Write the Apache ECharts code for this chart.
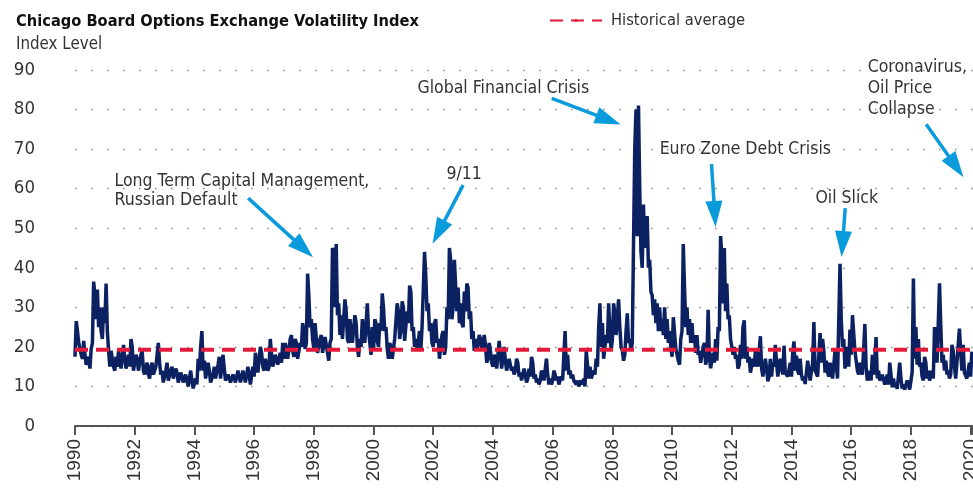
<!DOCTYPE html>
<html>
<head>
<meta charset="utf-8">
<script src="https://cdn.jsdelivr.net/npm/echarts@6/dist/echarts.min.js"></script>
<style>
html,body{margin:0;padding:0;background:#fff;}
#chart{width:973px;height:490px;}
</style>
</head>
<body>
<div id="chart"></div>
<script>
// VIX index level, two readings per month (first half, second half)
const vix1990 = [17.5,26.5, 24,21, 21,18, 17,21.5, 18,15.5, 15,17.5, 14.5,19.5, 21,36.5, 33,27, 34.5,25, 30,24, 22,30];
const vix1991 = [26,36, 24,19, 15,19, 19,15, 14,17.5, 15,19, 17,14.5, 14,20.5, 17,14.5, 14,18, 15,22, 20,14];
const vix1992 = [14,18, 17,14, 14.5,18, 19,14, 13,15, 16,13, 12,15, 16,13, 12.5,15, 15,21, 16,13, 14,11];
const vix1993 = [11.5,14, 16,11.5, 11,14, 15,12, 12,14.5, 13.5,11, 11,13.5, 12.5,11, 10.5,13, 12.5,10, 10.5,14, 11.5,9.5];
const vix1994 = [9.5,12, 10.5,17, 14,20, 24,14, 16.5,12, 12,16, 14,11, 11,13, 15,12, 12,15.5, 17.5,12, 12,18];
const vix1995 = [14.5,11.5, 11,13, 13,11, 11,13, 13.5,11, 11,14, 13.5,11, 11.5,14, 13.5,11, 11.5,15, 13,10.5, 11,15];
const vix1996 = [12.5,18.5, 18,13.5, 14,20, 18.5,15, 14,17, 16.5,14, 15,22, 18,15, 14.5,18, 18,15.5, 15,18.5, 16,21];
const vix1997 = [17,21, 21.5,17, 17.5,22, 23,19, 17.5,22, 21,17, 17,21, 20,26, 24,19.5, 21,38.5, 33,25, 27,22];
const vix1998 = [19.5,26, 22,18.5, 18,22, 23,18.5, 18,22.5, 22,18.5, 16.5,21, 22,45, 44,30, 46,28, 31,23, 28,22];
const vix1999 = [22,32, 29,22, 21,27, 27,21, 21,28, 26,20, 17.5,22, 20,27, 27,21, 21,31, 24,21, 18,25];
const vix2000 = [19,27, 26,21.5, 20,26, 24,33.5, 30,24, 25,19.5, 17,21, 20,17, 17.5,22, 22,31, 29,22, 24,31.5];
const vix2001 = [30,21.5, 21,29, 26,35.5, 34,24, 25,20, 22,19, 19,24, 19,25, 25,44, 38,29, 31,24, 26,21];
const vix2002 = [20,26, 27,21, 22,17, 17.5,23, 24,18, 20,30, 27,45, 42,27, 30,42, 42,29, 35,26, 31,26];
const vix2003 = [25,34, 29,36, 35,27, 29,22, 24,19, 22,19, 19,23, 22,19, 19,23, 20.5,16, 17,21, 19,16];
const vix2004 = [15,18, 17,14.5, 15,21.5, 18,14.5, 15,20, 16.5,14, 14,17, 17.5,14, 15,13, 14,17, 16,12.5, 13.5,11.5];
const vix2005 = [11.5,14.5, 13,11, 12,14.5, 12.5,17.5, 16,12, 13,11, 12,10.5, 11.5,14, 13,11.5, 12,17, 13,10.5, 12,10.5];
const vix2006 = [11.5,14, 13,11.5, 12.5,10.5, 11,12.5, 11.5,18, 24,14, 18,13, 14,12, 13,11.5, 12,10.5, 11.5,10, 10,11.5];
const vix2007 = [10.5,12, 10,19, 19,12, 15,12, 12,14, 13,17, 15,25, 31,20, 26,17, 17,23, 21,31, 24,19];
const vix2008 = [22,31, 28.5,23, 23,32, 25,20, 19,16.5, 18,24, 28.5,21, 22,19, 21,46, 70,80, 48,81, 60,44];
const vix2009 = [40,56, 45,52, 53,40, 42,34, 33,28, 32,26, 31,24, 30,24, 27,23, 30,22, 27,21, 24,20];
const vix2010 = [17.5,27.5, 28,19.5, 20,16.5, 15.5,22, 24,46, 35,25, 30,23, 27,21, 26,21, 23,18.5, 23,18, 19,16];
const vix2011 = [15.5,20, 21,15.5, 17,29.4, 17.5,14.6, 15,18.5, 16,22, 16.5,25, 24,48, 43,31, 45,29, 36,27, 28,22];
const vix2012 = [22,18, 20,17, 18,14.5, 15.5,20.5, 17,25, 26.7,17, 20,16, 17.5,13.5, 14,17, 15,19, 18.5,15, 15.5,22.7];
const vix2013 = [14.5,12.5, 12.5,17, 14.5,11.3, 12.5,17, 12.5,16, 15,20.5, 16,12.5, 12.5,17, 17,13, 20.3,13.5, 13.5,12.5, 12.5,16];
const vix2014 = [12.5,18.5, 21.4,14, 17.8,14, 13,17, 13,11.5, 12.5,10.6, 10.3,16.5, 16,11.5, 12,16, 26.3,14, 14,12.5, 12,23.5];
const vix2015 = [16,22, 19,13.5, 16.5,13.5, 12.5,16, 14,12, 12,19, 19,12, 12,41, 27,20, 22,14.5, 14,20, 15,24.4];
const vix2016 = [18,28, 28.1,19, 19,14, 13,16, 16,13, 13,25.8, 15,11.5, 11,14, 11.5,18, 13,17, 22.5,12, 14,11.5];
const vix2017 = [11,13, 12.5,10.5, 11,13, 10.5,16, 15.6,9.8, 12,9.8, 11,9.4, 9.9,16, 12,9.5, 10.5,9.2, 9.1,11.5, 11,9.2];
const vix2018 = [9.5,13.5, 37.3,17, 25,15.5, 22,15, 16,12.5, 11.5,17.5, 16,12, 14,11.5, 11.5,14, 12,25, 22.5,16, 16,36.1];
const vix2019 = [25.5,16, 18,14, 16.5,13, 14,12, 13,20.5, 19,15, 12,16, 16,24.6, 19,14, 20.5,13.5, 13,12, 12,16];
const vix2020 = [12.5,18.8];

const vixByYear = [vix1990,vix1991,vix1992,vix1993,vix1994,vix1995,vix1996,vix1997,vix1998,vix1999,
  vix2000,vix2001,vix2002,vix2003,vix2004,vix2005,vix2006,vix2007,vix2008,vix2009,
  vix2010,vix2011,vix2012,vix2013,vix2014,vix2015,vix2016,vix2017,vix2018,vix2019,vix2020];
const firstYear = 1990;
const historicalAverage = 19.3;
const xMin = 1990, xMax = 2020.08;
const yTicks = [0,10,20,30,40,50,60,70,80,90];

const annotationTexts = [
  'Long Term Capital Management,\nRussian Default',
  '9/11',
  'Global Financial Crisis',
  'Euro Zone Debt Crisis',
  'Oil Slick',
  'Coronavirus,\nOil Price\nCollapse'
];
// label anchors (year, index level): top-left of text, except the last which is bottom-left
const annotationAnchors = [[1991.34,64.1],[2002.46,65.9],[2001.49,87.6],[2009.60,72.2],[2014.82,59.8],[2016.57,77.2]];
const arrowStarts = [[1995.80,57.6],[2003.00,60.9],[2005.97,82.8],[2011.32,66.2],[2015.80,55.1],[2018.51,76.3]];
const arrowEnds   = [[1997.65,44.9],[2002.18,49.0],[2007.87,77.4],[2011.43,53.6],[2015.71,46.0],[2019.51,65.6]];

const vixData = [];
vixByYear.forEach((arr, yi) => {
  arr.forEach((v, i) => vixData.push([firstYear + yi + i / 24, v]));
});

const NARROW = '"DejaVu Sans Condensed","Liberation Sans Narrow",sans-serif';
const REG = '"Liberation Sans",Arial,sans-serif';
const NAVY = '#0b2161';
const RED = '#e31b3b';
const BLUE = '#0a9bdc';

const chart = echarts.init(document.getElementById('chart'), null, {renderer:'canvas'});
chart.setOption({
  animation: false,
  backgroundColor: '#fff',
  title: {
    text: 'Chicago Board Options Exchange Volatility Index',
    subtext: 'Index Level',
    left: 16, top: 14, padding: 0, itemGap: 6,
    textStyle: {fontFamily: NARROW, fontWeight: 'bold', fontSize: 16.3, color: '#111'},
    subtextStyle: {fontFamily: NARROW, fontSize: 16.8, color: '#333'}
  },
  legend: {
    data: ['Historical average'],
    left: 549, top: 12.5, padding: 0,
    itemWidth: 52, itemHeight: 4,
    textStyle: {fontFamily: NARROW, fontSize: 16.4, color: '#333', padding: [0,0,0,4]}
  },
  grid: {left: 75, right: 0, top: 70, bottom: 64, containLabel: false, outerBoundsMode: 'none'},
  xAxis: {
    type: 'value', min: xMin, max: xMax, interval: 2,
    axisLine: {show: true, lineStyle: {color: '#555', width: 2}},
    axisTick: {show: true, length: 9, lineStyle: {color: '#555', width: 2}},
    axisLabel: {
      rotate: 90, margin: 13, fontFamily: REG, fontSize: 19, color: '#333',
      formatter: v => (Math.abs(v - Math.round(v)) < 1e-6 && Math.round(v) % 2 === 0) ? String(Math.round(v)) : ''
    },
    splitLine: {show: false}
  },
  yAxis: {
    type: 'value', min: yTicks[0], max: yTicks[yTicks.length-1], interval: 10,
    axisLine: {show: false}, axisTick: {show: false},
    axisLabel: {margin: 40, fontFamily: NARROW, fontSize: 18.5, color: '#333'},
    splitLine: {show: true, lineStyle: {color: '#8a8a8a', width: 1.3, type: [1.5, 14.5]}}
  },
  series: [
    {
      name: 'VIX', type: 'line', data: vixData, showSymbol: false, symbol: 'none',
      lineStyle: {color: NAVY, width: 3.5}, z: 2
    },
    {
      name: 'Historical average', type: 'line', symbol: 'none', showSymbol: false,
      data: [[xMin, historicalAverage], [xMax, historicalAverage]],
      lineStyle: {color: RED, width: 4, type: [13, 8]}, itemStyle: {color: RED}, z: 3
    },
    {
      name: 'annotations', type: 'line', data: [], clip: false, z: 4,
      markLine: {
        silent: true, animation: false,
        symbol: ['none', 'triangle'], symbolSize: [17, 26],
        lineStyle: {color: BLUE, width: 3.5, type: 'solid'},
        label: {show: false},
        data: arrowStarts.map((s, i) => [{coord: s}, {coord: arrowEnds[i]}])
      },
      markPoint: {
        silent: true, animation: false,
        symbol: 'rect', symbolSize: 1, itemStyle: {color: 'rgba(0,0,0,0)'},
        label: {
          show: true, position: [0, 0], align: 'left', verticalAlign: 'top',
          fontFamily: NARROW, fontSize: 17.5, lineHeight: 19, color: '#333'
        },
        data: annotationAnchors.map((a, i) => ({
          coord: a, value: annotationTexts[i],
          label: {
            formatter: annotationTexts[i],
            lineHeight: i === 5 ? 21 : 19,
            verticalAlign: i === 5 ? 'bottom' : 'top'
          }
        }))
      }
    }
  ]
});
</script>
</body>
</html>
